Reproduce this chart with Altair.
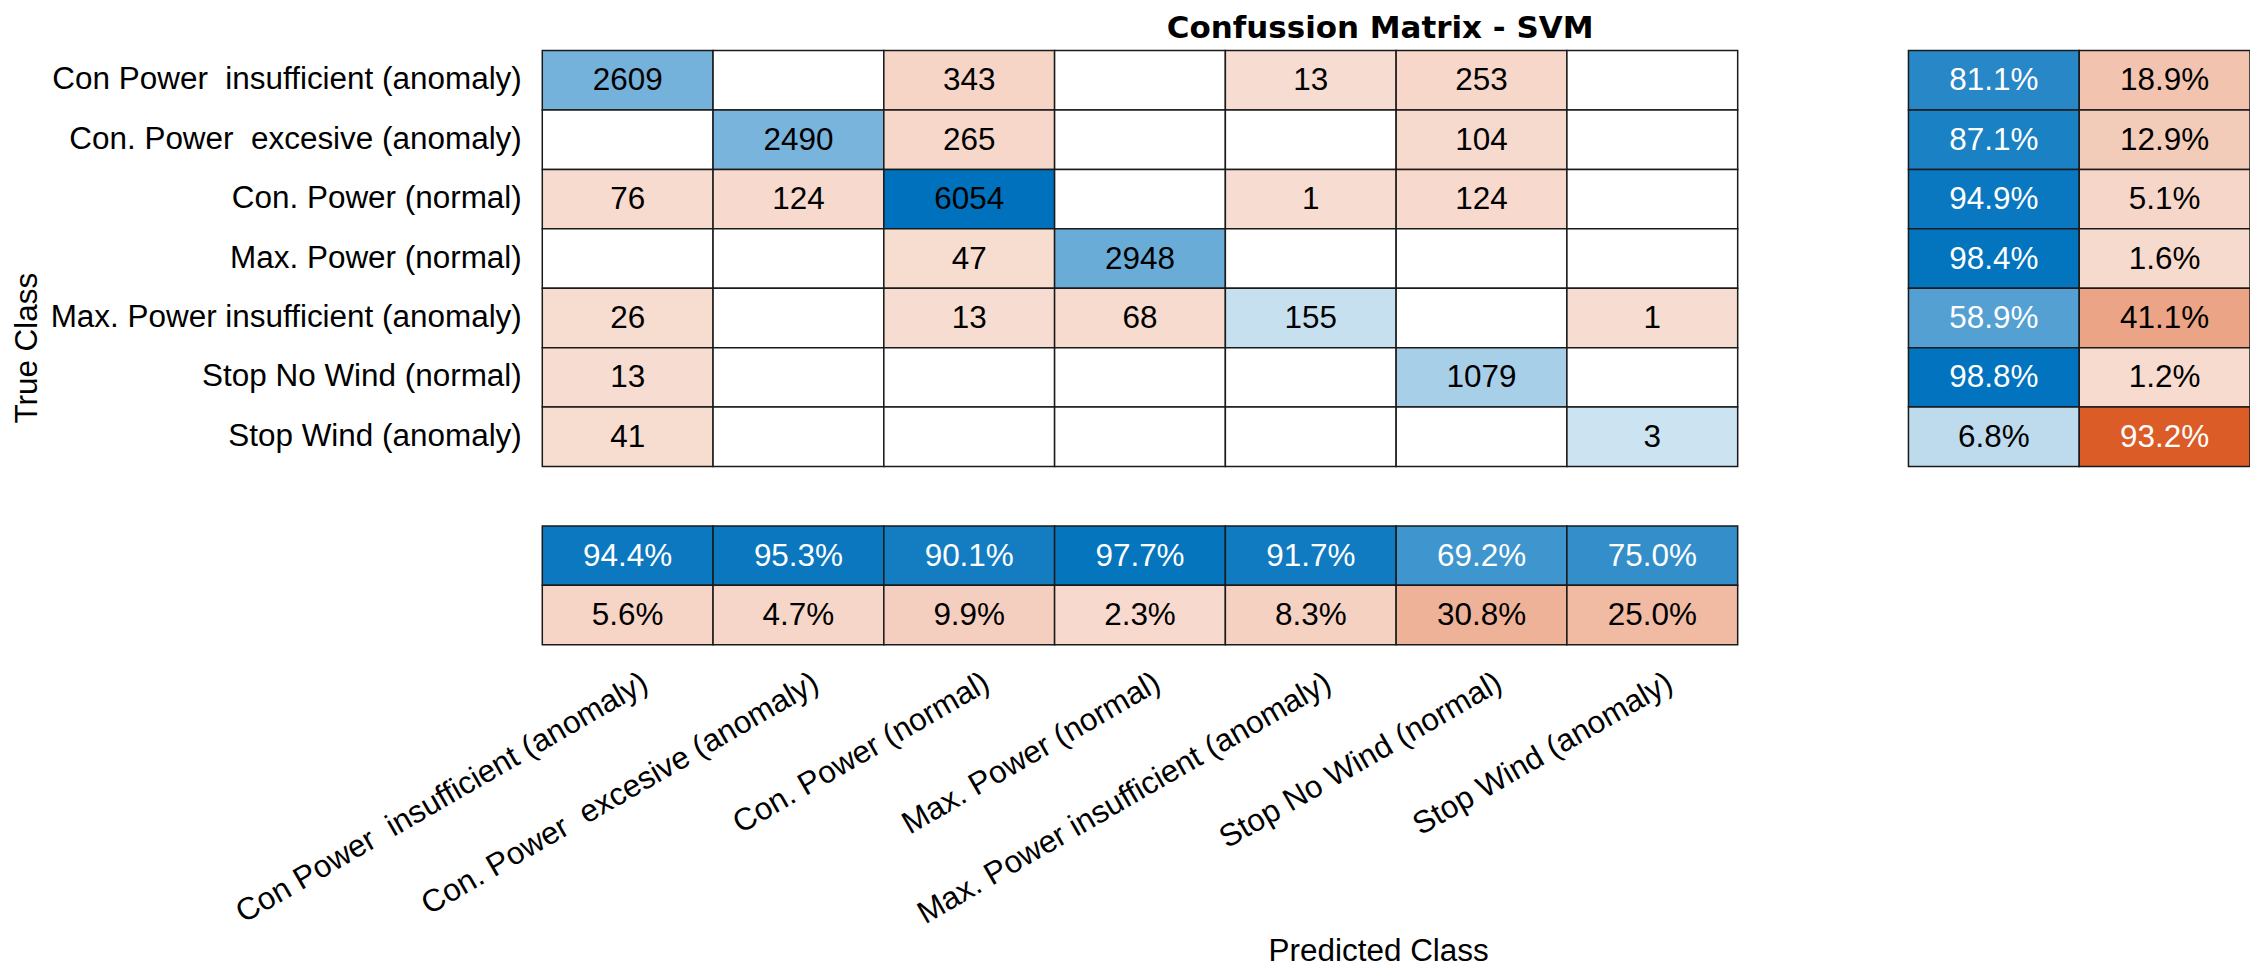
import altair as alt
import pandas as pd

# ---------------- data ----------------
NB = "\u00a0"  # keeps the visible double space of the original labels
classes = [
    "Con Power" + NB + " insufficient (anomaly)",
    "Con. Power" + NB + " excesive (anomaly)",
    "Con. Power (normal)",
    "Max. Power (normal)",
    "Max. Power insufficient (anomaly)",
    "Stop No Wind (normal)",
    "Stop Wind (anomaly)",
]

# confusion matrix: rows = true class, columns = predicted class (0 = empty cell)
cm_row0 = [2609, 0, 343, 0, 13, 253, 0]
cm_row1 = [0, 2490, 265, 0, 0, 104, 0]
cm_row2 = [76, 124, 6054, 0, 1, 124, 0]
cm_row3 = [0, 0, 47, 2948, 0, 0, 0]
cm_row4 = [26, 0, 13, 68, 155, 0, 1]
cm_row5 = [13, 0, 0, 0, 0, 1079, 0]
cm_row6 = [41, 0, 0, 0, 0, 0, 3]
cm = [cm_row0, cm_row1, cm_row2, cm_row3, cm_row4, cm_row5, cm_row6]

# row summary (true positive rate / false negative rate), percent
row_tpr = [81.1, 87.1, 94.9, 98.4, 58.9, 98.8, 6.8]
row_fnr = [18.9, 12.9, 5.1, 1.6, 41.1, 1.2, 93.2]

# column summary (positive predictive value / false discovery rate), percent
col_ppv = [94.4, 95.3, 90.1, 97.7, 91.7, 69.2, 75.0]
col_fdr = [5.6, 4.7, 9.9, 2.3, 8.3, 30.8, 25.0]

title_text = "Confussion Matrix - SVM"
x_title = "Predicted Class"
y_title = "True Class"

# ---------------- styling helpers ----------------
BLUE = (0, 114, 189)
ORANGE = (217, 83, 25)
FONT = "Liberation Sans"
FS = 31.5


def blend(base, a):
    r, g, b = (round(255 * (1 - a) + c * a) for c in base)
    return f"#{r:02x}{g:02x}{b:02x}"


GAP = "_gap"
S1, S2 = "_s1", "_s2"
x_domain = classes + [GAP, S1, S2]
y_domain = classes + [GAP, S1, S2]

records = []
vmax = max(max(r) for r in cm)
for i, tc in enumerate(classes):
    for j, pc in enumerate(classes):
        v = cm[i][j]
        if v == 0:
            color = "#ffffff"
            label = ""
        else:
            a = 0.2 + 0.8 * v / vmax
            color = blend(BLUE if i == j else ORANGE, a)
            label = str(v)
        records.append(dict(row=tc, col=pc, label=label, fill=color, tcolor="#000000"))

for i, tc in enumerate(classes):
    for col, val, base in ((S1, row_tpr[i], BLUE), (S2, row_fnr[i], ORANGE)):
        a = 0.2 + 0.8 * val / 100
        records.append(dict(row=tc, col=col, label=f"{val:.1f}%", fill=blend(base, a),
                            tcolor="#ffffff" if a > 0.6 else "#000000"))

for j, pc in enumerate(classes):
    for row, val, base in ((S1, col_ppv[j], BLUE), (S2, col_fdr[j], ORANGE)):
        a = 0.2 + 0.8 * val / 100
        records.append(dict(row=row, col=pc, label=f"{val:.1f}%", fill=blend(base, a),
                            tcolor="#ffffff" if a > 0.6 else "#000000"))

df = pd.DataFrame(records)

label_expr = "indexof(datum.value, '_') == 0 ? '' : datum.value"

x_enc = alt.X(
    "col:N",
    sort=x_domain,
    scale=alt.Scale(domain=x_domain, paddingInner=0, paddingOuter=0),
    axis=alt.Axis(
        orient="bottom",
        labelExpr=label_expr,
        labelAngle=-30,
        labelAlign="right",
        labelBaseline="top",
        labelFont=FONT,
        labelFontSize=FS,
        labelColor="#000000",
        labelLimit=1000,
        labelPadding=22,
        labelOffset=10,
        labelOverlap=False,
        labelFlush=False,
        ticks=False,
        domain=False,
        grid=False,
        title=x_title,
        titleFont=FONT,
        titleFontSize=FS,
        titleFontWeight="normal",
        titleColor="#000000",
        titleBaseline="middle",
        titleAlign="center",
        titleX=837,
        titleY=307,
    ),
)

y_enc = alt.Y(
    "row:N",
    sort=y_domain,
    scale=alt.Scale(domain=y_domain, paddingInner=0, paddingOuter=0),
    axis=alt.Axis(
        orient="left",
        labelExpr=label_expr,
        labelFont=FONT,
        labelFontSize=FS,
        labelColor="#000000",
        labelLimit=1000,
        labelPadding=21,
        labelOverlap=False,
        ticks=False,
        domain=False,
        grid=False,
        title=y_title,
        titleFont=FONT,
        titleFontSize=FS,
        titleFontWeight="normal",
        titleColor="#000000",
        titleBaseline="middle",
        titleX=-515,
    ),
)

cells = alt.Chart(df).mark_rect(stroke="#1a1a1a", strokeWidth=1.5).encode(
    x=x_enc,
    y=y_enc,
    fill=alt.Fill("fill:N", scale=None),
)

texts = alt.Chart(df).mark_text(font=FONT, fontSize=FS, baseline="middle", align="center", dy=1).encode(
    x=alt.X("col:N", sort=x_domain),
    y=alt.Y("row:N", sort=y_domain),
    text="label:N",
    color=alt.Color("tcolor:N", scale=None),
)

chart = (
    alt.layer(cells, texts)
    .properties(
        width=1710,
        height=595,
        view=alt.ViewBackground(stroke="transparent", strokeWidth=0),
        title=alt.TitleParams(
            title_text,
            font="DejaVu Sans",
            fontSize=31,
            fontWeight="bold",
            color="#000000",
            anchor="middle",
            offset=5,
            dx=-16,
        ),
        autosize=alt.AutoSizeParams(type="none"),
        padding={"left": 535, "top": 42, "right": 0, "bottom": 327},
    )
    .configure_view(strokeWidth=0, stroke="transparent")
    .configure(background="#ffffff", style={"cell": {"stroke": "transparent", "strokeWidth": 0}})
)

chart.save("out.html", embed_options={"renderer": "svg", "actions": False})
